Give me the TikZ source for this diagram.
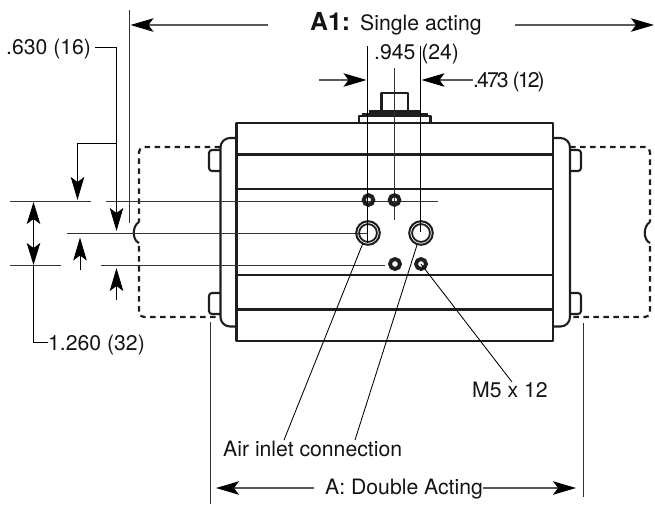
\documentclass[tikz,border=0pt]{standalone}
\usepackage{fontspec}
\setmainfont{TeX Gyre Heros}
\usetikzlibrary{arrows.meta}
\definecolor{ink}{HTML}{1E1E1E}
\tikzset{
  x=1pt,y=-1pt,
  label text/.style={inner sep=0pt,anchor=base west,font=\fontsize{21.2}{24}\selectfont,text=black!92},
  body line/.style={draw=ink,line width=2.1pt,line join=round},
  dash line/.style={draw=ink,line width=2.2pt,dash pattern=on 5.5pt off 4.5pt,line join=round},
  dim line/.style={draw=black!80,line width=0.9pt},
  leader/.style={draw=black,line width=0.85pt},
  dim arrow/.style={draw=black!65,line width=1.1pt,-{Stealth[length=23pt,width=13.5pt,inset=5pt,color=black]}},
  small hole/.style={circle,draw=ink,line width=4pt,minimum size=9.6pt,inner sep=0pt,outer sep=0pt},
  wide hole/.style={circle,draw=ink,line width=3.8pt,minimum size=10pt,inner sep=0pt,outer sep=0pt},
  tip head/.style={-{Stealth[length=23pt,width=13.5pt,inset=5pt]}},
}
\begin{document}
\begin{tikzpicture}
\useasboundingbox (0,0) rectangle (655,504);
% body
\draw[body line] (236.5,123) rectangle (553,341);
\foreach \yy in {154.5,189,275,309.5} \draw[body line] (236.5,\yy) -- (553,\yy);
% end caps
\draw[body line] (236.5,138) -- (230,138) arc[start angle=90,end angle=180,radius=9.5pt] -- (220.5,317) arc[start angle=180,end angle=270,radius=9.5pt] -- (236.5,326.5);
\draw[body line] (553,138) -- (560.5,138) arc[start angle=90,end angle=0,radius=9.5pt] -- (570,317) arc[start angle=0,end angle=-90,radius=9.5pt] -- (553,326.5);
% tabs
\foreach \yy in {150,293}{
  \draw[body line] (220.5,\yy) -- (212,\yy) to[out=180,in=90] (209,\yy+3) -- (209,\yy+18) to[out=-90,in=180] (212,\yy+21) -- (220.5,\yy+21);
  \draw[body line] (570,\yy) -- (578,\yy) to[out=0,in=90] (581,\yy+3) -- (581,\yy+18) to[out=-90,in=0] (578,\yy+21) -- (570,\yy+21);
}
% dashed outlines
\draw[dash line] (220,147) -- (144,147) .. controls (141,147) and (139,149) .. (139,152) -- (139,222);
\draw[body line] (139,222) .. controls (132,226) and (132,240) .. (139,243);
\draw[dash line] (139,246) -- (139,312) .. controls (139,315) and (141,317) .. (144,317) -- (220,317);
\draw[dash line] (570,147) -- (645,147) .. controls (648,147) and (650,149) .. (650,152) -- (650,222);
\draw[body line] (650,222) .. controls (643,226) and (643,240) .. (650,243);
\draw[dash line] (650,246) -- (650,312) .. controls (650,315) and (648,317) .. (645,317) -- (570,317);
% top fitting
\draw[body line] (381.5,110) -- (381.5,93) -- (408,93) -- (408,110);
\fill[ink] (369,110) rectangle (420,116);
\fill[ink] (362,113) rectangle (428,116.5);
\draw[body line] (359,123.5) -- (359,116) -- (430.5,116) -- (430.5,123.5);
% extension lines
\draw[dim line] (129.5,10) -- (129.5,223);
\draw[dim line] (10,201) -- (91,201);
\draw[dim line] (106,201) -- (438,201);
\draw[dim line] (67,233) -- (368,233);
\draw[dim line] (10,265) -- (61,265);
\draw[dim line] (101,265) -- (385,265);
\draw[dim line] (210,322) -- (210,504);
\draw[dim line] (583,323) -- (583,497);
\draw[dim line] (394,68) -- (394,220);
% holes
\node[small hole] (h1) at (368.5,200) {};
\node[small hole] (h2) at (394.5,200) {};
\node[wide hole] (h3) at (395,264) {};
\node[wide hole] (h4) at (421,264) {};
\foreach \n/\xx in {p1/368,p2/421}{
  \draw[ink,line width=2pt] (\xx,233) circle[radius=11.8pt];
  \draw[ink,line width=1.8pt] (\xx,233) circle[radius=8.9pt];
  \coordinate (\n) at (\xx,233);
}
\draw[dim line,draw=black] (367.5,46) -- (367.5,243);
\draw[dim line,draw=black] (420.5,46) -- (420.5,232);
% labels
\node[label text] (t630) at (6,54.5) {.630 (16)};
\node[label text] (t1260) at (48,350) {1.260 (32)};
\node[label text] (tm5) at (472,397) {M5 x 12};
\node[label text] (tair) at (223,456) {Air inlet connection};
\node[label text] (tdouble) at (325,494) {A: Double Acting};
\node[label text] (tsingle) at (360,30) {Single acting};
\node[label text,font=\bfseries\fontsize{24.8}{28}\selectfont] (ta1) at (310,30.5) {A1:};
\node[label text] (t945) at (374,59) {.945 (24)};
\node[label text] (t473) at (473,87) {\addfontfeature{LetterSpace=-9}.473\hspace{4pt}(12)};
% coordinates of dimension ends
\coordinate (a1l) at (130.5,25); \coordinate (a1lt) at (268,25);
\coordinate (a1r) at (654,25); \coordinate (a1rt) at (515,25);
\coordinate (dl) at (216,488); \coordinate (dr) at (576,488);
\coordinate (e1) at (116.5,47); \coordinate (e2) at (116.5,231);
\coordinate (s1) at (116.5,143); \coordinate (s2) at (77.5,143); \coordinate (s3) at (77.5,200);
\coordinate (l1) at (33.5,343); \coordinate (l2) at (33.5,265); \coordinate (l3) at (33.5,202);
% dimension arrows
\draw[dim arrow] (a1lt) -- (a1l);
\draw[dim arrow] (a1rt) -- (a1r);
\draw[dim arrow] (314,488) -- (dl);
\draw[dim arrow] (tdouble.east |- dr) -- (dr);
\draw[dim arrow] (319,80) -- (366.5,80);
\draw[dim arrow] (t473.west |- 0,80) -- (421.5,80);
\draw[leader] (95,47) -- (e1);
\draw[leader,tip head] (e1) -- (e2);
\draw[leader,tip head] (s1) -- (s2) -- (s3);
\draw[leader,tip head] (80,270) -- (80,237.5);
\draw[leader,tip head] (116.5,300) -- (116.5,268);
\draw[leader,{Stealth[length=22pt,width=13.5pt,inset=5pt]}-{Stealth[length=22pt,width=13.5pt,inset=5pt]}] (l3) -- (l2);
\draw[leader] (t1260.west |- 0,342) -- (33.5,342) -- (l2);
% leaders
\draw[leader] (363,243) -- (284,440);
\draw[leader] (417,245) -- (355,440);
\draw[leader] (h4.center) -- (512,382);
\end{tikzpicture}
\end{document}
